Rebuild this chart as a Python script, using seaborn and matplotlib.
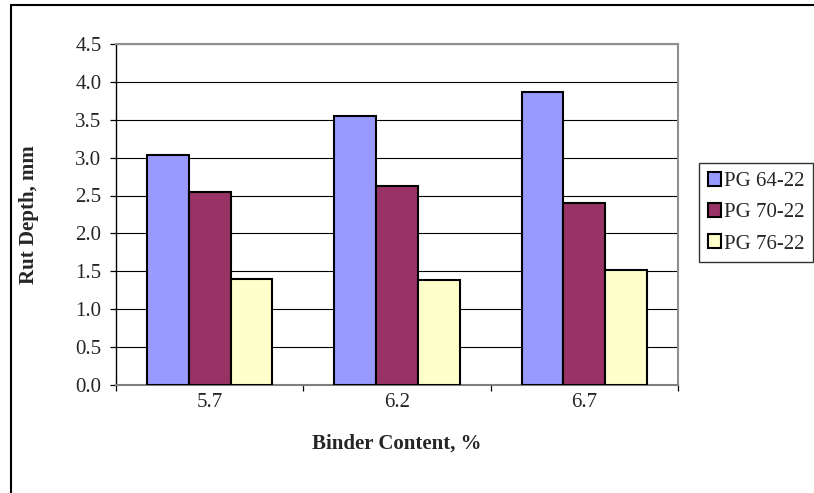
import matplotlib
matplotlib.use("Agg")
import matplotlib.pyplot as plt
import seaborn as sns
import pandas as pd
from matplotlib.patches import Rectangle

# Rut depth by binder content and performance grade
binder_content = ["5.7", "6.2", "6.7"]
grades = ["PG 64-22", "PG 70-22", "PG 76-22"]
pg64 = [3.04, 3.55, 3.87]
pg70 = [2.55, 2.62, 2.40]
pg76 = [1.40, 1.38, 1.51]
y_ticks = [0.0, 0.5, 1.0, 1.5, 2.0, 2.5, 3.0, 3.5, 4.0, 4.5]
bar_colors = ["#9999FF", "#993366", "#FFFFCC"]

rows = []
for grade, vals in zip(grades, [pg64, pg70, pg76]):
    for bc, v in zip(binder_content, vals):
        rows.append({"Binder Content": bc, "Rut Depth": v, "Grade": grade})
df = pd.DataFrame(rows)

sns.set_style("white")
plt.rcParams["font.family"] = ["Liberation Serif", "DejaVu Serif"]

FS = 15

fig = plt.figure(figsize=(8.14, 4.93), dpi=100)
ax = fig.add_axes([116 / 814, 1 - 384.5 / 493, 562 / 814, 340.2 / 493])

sns.barplot(data=df, x="Binder Content", y="Rut Depth", hue="Grade",
            order=binder_content, hue_order=grades, palette=bar_colors,
            saturation=1, width=0.67, edgecolor="black", linewidth=1.5,
            errorbar=None, ax=ax, zorder=3)

ax.set_ylim(0, 4.5)
ax.set_xlim(-0.5, 2.5)
ax.set_yticks(y_ticks)
ax.set_yticklabels([f"{t:.1f}" for t in y_ticks], fontsize=FS)
ax.yaxis.grid(True, color="black", linewidth=0.8, zorder=0)
ax.set_axisbelow(True)

# category labels at centers, tick marks at category boundaries
ax.set_xticks([0, 1, 2])
ax.set_xticklabels(binder_content, fontsize=FS)
ax.set_xticks([-0.5, 0.5, 1.5, 2.5], minor=True)
ax.tick_params(axis="x", which="major", length=0, pad=6)
ax.tick_params(axis="x", which="minor", length=4.5, width=0.9, color="black",
               direction="out", bottom=True)
ax.tick_params(axis="y", which="major", length=4.5, width=0.9, color="black",
               direction="out", left=True, pad=6)

ax.set_xlabel("Binder Content, %", fontsize=FS, fontweight="bold", labelpad=16)
ax.set_ylabel("Rut Depth, mm", fontsize=FS, fontweight="bold", labelpad=26)

for side in ["top", "right"]:
    ax.spines[side].set_visible(True)
    ax.spines[side].set_color("#909090")
    ax.spines[side].set_linewidth(1.5)
ax.spines["left"].set_color("black")
ax.spines["left"].set_linewidth(1.0)
ax.spines["bottom"].set_color("#808080")
ax.spines["bottom"].set_linewidth(1.5)

leg = ax.legend(loc="upper left", bbox_to_anchor=(699 / 814, 1 - 163 / 493),
                bbox_transform=fig.transFigure, frameon=True, fancybox=False,
                shadow=False, fontsize=FS, handlelength=0.65,
                handleheight=0.65, handletextpad=0.12, labelspacing=0.58,
                borderpad=0.42, borderaxespad=0)
leg.get_frame().set_edgecolor("black")
leg.get_frame().set_linewidth(1.0)
for h in leg.legend_handles:
    h.set_edgecolor("black")
    h.set_linewidth(1.5)

# outer chart frame
fig.patches.append(Rectangle((11 / 814, -0.1), 1.2, 1 - 5 / 493 + 0.1,
                             transform=fig.transFigure, fill=False,
                             edgecolor="black", linewidth=1.5))

fig.savefig("out.png", dpi=100, facecolor="white")
